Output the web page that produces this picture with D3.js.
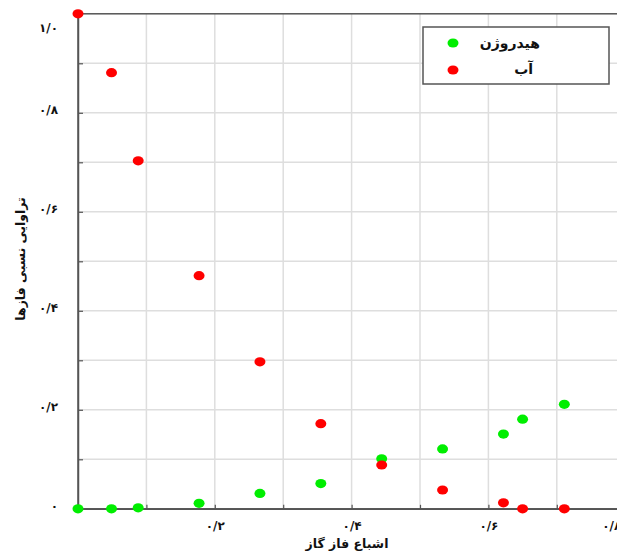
<!DOCTYPE html>
<html>
<head>
<meta charset="utf-8">
<script src="https://d3js.org/d3.v7.min.js"></script>
<style>
  html, body { margin: 0; padding: 0; background: #fff; }
  svg { display: block; }
  text { font-family: "DejaVu Sans", sans-serif; font-weight: bold; fill: #111; }
</style>
</head>
<body>
<div id="chart"></div>
<script>
// Gas saturation (x) and relative permeability of each phase
const saturation = [0, 0.049, 0.088, 0.177, 0.266, 0.355, 0.444, 0.533, 0.622, 0.650, 0.711];
const krHydrogen = [0, 0, 0.002, 0.011, 0.031, 0.051, 0.101, 0.121, 0.151, 0.181, 0.211];
const krWater    = [1.0, 0.881, 0.703, 0.471, 0.297, 0.172, 0.0885, 0.038, 0.012, 0, 0];

const seriesNames  = ["هیدروژن", "آب"];
const seriesColors = ["#00ee00", "#ff0000"];

const xLabelTicks = [0.2, 0.4, 0.6, 0.8];
const yLabelTicks = [0, 0.2, 0.4, 0.6, 0.8, 1.0];
const gridTicks   = [0.1, 0.2, 0.3, 0.4, 0.5, 0.6, 0.7, 0.8, 0.9];

const xTitle = "اشباع فاز گاز";
const yTitle = "تراوایی نسبی فازها";

const toPersian = s => s.replace(/[0-9]/g, d => "۰۱۲۳۴۵۶۷۸۹"[+d]);
const fmt = v => toPersian(d3.format(".1f")(v)).replace(".", "/").replace(/^۰\/۰$/, "۰");

const W = 617, H = 553;
const plotLeft = 78, plotTop = 13.8, plotW = 547.2, plotH = 495;

const svg = d3.select("#chart").append("svg").attr("width", W).attr("height", H);

const x = d3.scaleLinear().domain([0, 0.8]).range([plotLeft, plotLeft + plotW]);
const y = d3.scaleLinear().domain([0, 1.0]).range([plotTop + plotH, plotTop]);

// grid
const grid = svg.append("g").attr("stroke", "#dedede").attr("stroke-width", 1.5);
grid.selectAll("line.v").data(gridTicks.filter(t => t < 0.8)).join("line")
  .attr("x1", d => x(d)).attr("x2", d => x(d))
  .attr("y1", y(1)).attr("y2", y(0));
grid.selectAll("line.h").data(gridTicks).join("line")
  .attr("x1", x(0)).attr("x2", x(0.8))
  .attr("y1", d => y(d)).attr("y2", d => y(d));

// frame (top and right)
svg.append("rect")
  .attr("x", x(0)).attr("y", y(1)).attr("width", x(0.8) - x(0)).attr("height", y(0) - y(1))
  .attr("fill", "none").attr("stroke", "#555").attr("stroke-width", 1.5);

// axes: ticks every 0.1 drawn inside, labels only at selected values
const xAxis = d3.axisBottom(x).tickValues(d3.range(0, 9).map(i => i / 10))
  .tickSizeInner(-4).tickSizeOuter(0)
  .tickFormat(d => xLabelTicks.some(t => Math.abs(t - d) < 1e-9) ? fmt(d) : "");
const gx = svg.append("g").attr("transform", `translate(0,${y(0)})`).call(xAxis);

const yAxis = d3.axisLeft(y).tickValues(d3.range(0, 11).map(i => i / 10))
  .tickSizeInner(-5).tickSizeOuter(0)
  .tickFormat(d => yLabelTicks.some(t => Math.abs(t - d) < 1e-9) ? fmt(d) : "");
const gy = svg.append("g").attr("transform", `translate(${x(0)},0)`).call(yAxis);

[gx, gy].forEach(g => {
  g.select(".domain").attr("stroke", "#555").attr("stroke-width", 1.5);
  g.selectAll(".tick line").attr("stroke", "#555").attr("stroke-width", 1.2);
  g.selectAll(".tick text").attr("font-family", "DejaVu Sans, sans-serif")
    .attr("font-weight", "bold").attr("font-size", 12).attr("fill", "#111");
});
gx.selectAll(".tick text").attr("y", 13);
gy.selectAll(".tick text").attr("x", -20).attr("dy", "0.05em");
// the end labels are pulled inward so they stay on the page
gy.selectAll(".tick text").filter(d => d === 1).attr("dy", "1.45em");
gx.selectAll(".tick text").filter(d => Math.abs(d - 0.8) < 1e-9).attr("dx", -14);

// axis titles
svg.append("text").attr("x", 347).attr("y", 548).attr("text-anchor", "middle")
  .attr("font-size", 12.5).text(xTitle);
svg.append("text").attr("transform", "translate(25,259) rotate(-90)")
  .attr("text-anchor", "middle").attr("font-size", 12.5).text(yTitle);

// points
const series = [krHydrogen, krWater];
series.forEach((vals, i) => {
  svg.append("g").selectAll("ellipse")
    .data(saturation.map((s, j) => [s, vals[j]]))
    .join("ellipse")
    .attr("cx", d => x(d[0])).attr("cy", d => y(d[1]))
    .attr("rx", 5.5).attr("ry", 4.6)
    .attr("fill", seriesColors[i]);
});

// legend
const lg = svg.append("g");
lg.append("rect").attr("x", 423).attr("y", 27).attr("width", 186).attr("height", 57)
  .attr("fill", "#fff").attr("stroke", "#555").attr("stroke-width", 1.5);
seriesNames.forEach((name, i) => {
  const cy = 43 + i * 27;
  lg.append("ellipse").attr("cx", 453).attr("cy", cy).attr("rx", 5.5).attr("ry", 4.6)
    .attr("fill", seriesColors[i]);
  lg.append("text").attr("x", i === 0 ? 540 : 533).attr("y", cy + 4 + (i === 0 ? 1 : 0))
    .attr("text-anchor", "end").attr("font-size", 14).text(name);
});
</script>
</body>
</html>
